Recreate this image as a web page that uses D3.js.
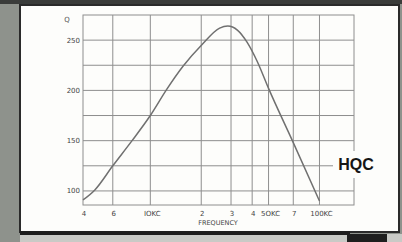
<!DOCTYPE html>
<html>
<head>
<meta charset="utf-8">
<script src="https://cdn.jsdelivr.net/npm/d3@7"></script>
<style>
  body { margin: 0; background: #8e928c; }
  svg { display: block; }
</style>
</head>
<body>
<script>
// Q vs frequency (kc)
var freq = [4, 4.7, 6, 7.8, 10, 12.5, 15.6, 20.3, 25.7, 28.7, 32.7, 37.3, 42.8, 50, 70, 100];
var qVals = [91, 101, 125, 150, 175, 201, 224, 246, 262, 264, 260, 248, 229, 202, 148, 90];

var xGrid = [6, 10, 20, 30, 40, 50, 70, 100];
var xTickVals = [4, 6, 10, 20, 30, 40, 50, 70, 100];
var xTickText = ["4", "6", "IOKC", "2", "3", "4", "5OKC", "7", "100KC"];
var yGrid = [100, 125, 150, 175, 200, 225, 250];
var yTickVals = [100, 150, 200, 250];

var width = 402, height = 242;
var plot = {left: 83, right: 354, top: 15, bottom: 205};

var xScale = d3.scaleLog().domain([4, 160]).range([plot.left, plot.right]);
var yScale = d3.scaleLinear().domain([86, 275]).range([plot.bottom, plot.top]);

var svg = d3.select("body").append("svg")
    .attr("width", width)
    .attr("height", height);

// paper panel
svg.append("rect")
    .attr("x", 0).attr("y", 0).attr("width", width).attr("height", 4)
    .attr("fill", "#3a3c3a");
svg.append("rect")
    .attr("x", 20).attr("y", 5).attr("width", 379).attr("height", 227)
    .attr("fill", "#fdfdfb")
    .attr("stroke", "#2a2a2a")
    .attr("stroke-width", 2);
svg.append("rect")
    .attr("x", 20).attr("y", 234).attr("width", 382).attr("height", 8)
    .attr("fill", "#c9cac6");
svg.append("rect")
    .attr("x", 20).attr("y", 231).attr("width", 330).attr("height", 4)
    .attr("fill", "#1e1e1e");
svg.append("rect")
    .attr("x", 347).attr("y", 234).attr("width", 40).attr("height", 8)
    .attr("fill", "#1e1e1e");

var grid = svg.append("g")
    .attr("stroke", "#8e8e8e")
    .attr("stroke-width", 1)
    .attr("fill", "none");

grid.selectAll(".vg")
    .data(xGrid)
    .enter().append("line")
    .attr("x1", function(d) { return xScale(d); })
    .attr("x2", function(d) { return xScale(d); })
    .attr("y1", plot.top)
    .attr("y2", plot.bottom);

grid.selectAll(".hg")
    .data(yGrid)
    .enter().append("line")
    .attr("x1", plot.left)
    .attr("x2", plot.right)
    .attr("y1", function(d) { return yScale(d); })
    .attr("y2", function(d) { return yScale(d); });

grid.append("rect")
    .attr("x", plot.left).attr("y", plot.top)
    .attr("width", plot.right - plot.left)
    .attr("height", plot.bottom - plot.top);

// y labels
svg.selectAll(".yl")
    .data(yTickVals)
    .enter().append("text")
    .attr("x", plot.left - 3)
    .attr("y", function(d) { return yScale(d) + 2.5; })
    .attr("text-anchor", "end")
    .attr("font-family", "DejaVu Sans, sans-serif")
    .attr("font-size", "7px")
    .attr("fill", "#444")
    .text(function(d) { return d; });

svg.append("text")
    .attr("x", 67).attr("y", 22)
    .attr("text-anchor", "middle")
    .attr("font-family", "DejaVu Sans, sans-serif")
    .attr("font-size", "7px")
    .attr("fill", "#555")
    .text("Q");

// x labels
svg.selectAll(".xl")
    .data(xTickVals)
    .enter().append("text")
    .attr("x", function(d, i) { return xScale(d) + (xTickText[i].length > 1 ? 2 : 1); })
    .attr("y", 216)
    .attr("text-anchor", "middle")
    .attr("font-family", "DejaVu Sans, sans-serif")
    .attr("font-size", "7px")
    .attr("fill", "#444")
    .text(function(d, i) { return xTickText[i]; });

svg.append("text")
    .attr("x", 218).attr("y", 225)
    .attr("text-anchor", "middle")
    .attr("font-family", "DejaVu Sans, sans-serif")
    .attr("font-size", "6.5px")
    .attr("fill", "#444")
    .text("FREQUENCY");

// curve
var line = d3.line()
    .x(function(d) { return xScale(d[0]); })
    .y(function(d) { return yScale(d[1]); })
    .curve(d3.curveMonotoneX);

svg.append("path")
    .datum(d3.zip(freq, qVals))
    .attr("d", line)
    .attr("fill", "none")
    .attr("stroke", "#707070")
    .attr("stroke-width", 1.5);

// label box over the right edge
svg.append("rect")
    .attr("x", 333).attr("y", 151).attr("width", 46).attr("height", 27)
    .attr("fill", "#fdfdfb");
svg.append("text")
    .attr("x", 356).attr("y", 170)
    .attr("text-anchor", "middle")
    .attr("font-family", "Liberation Sans, Arial, sans-serif")
    .attr("font-weight", "bold")
    .attr("font-size", "16px")
    .attr("fill", "#151515")
    .text("HQC");
</script>
</body>
</html>
